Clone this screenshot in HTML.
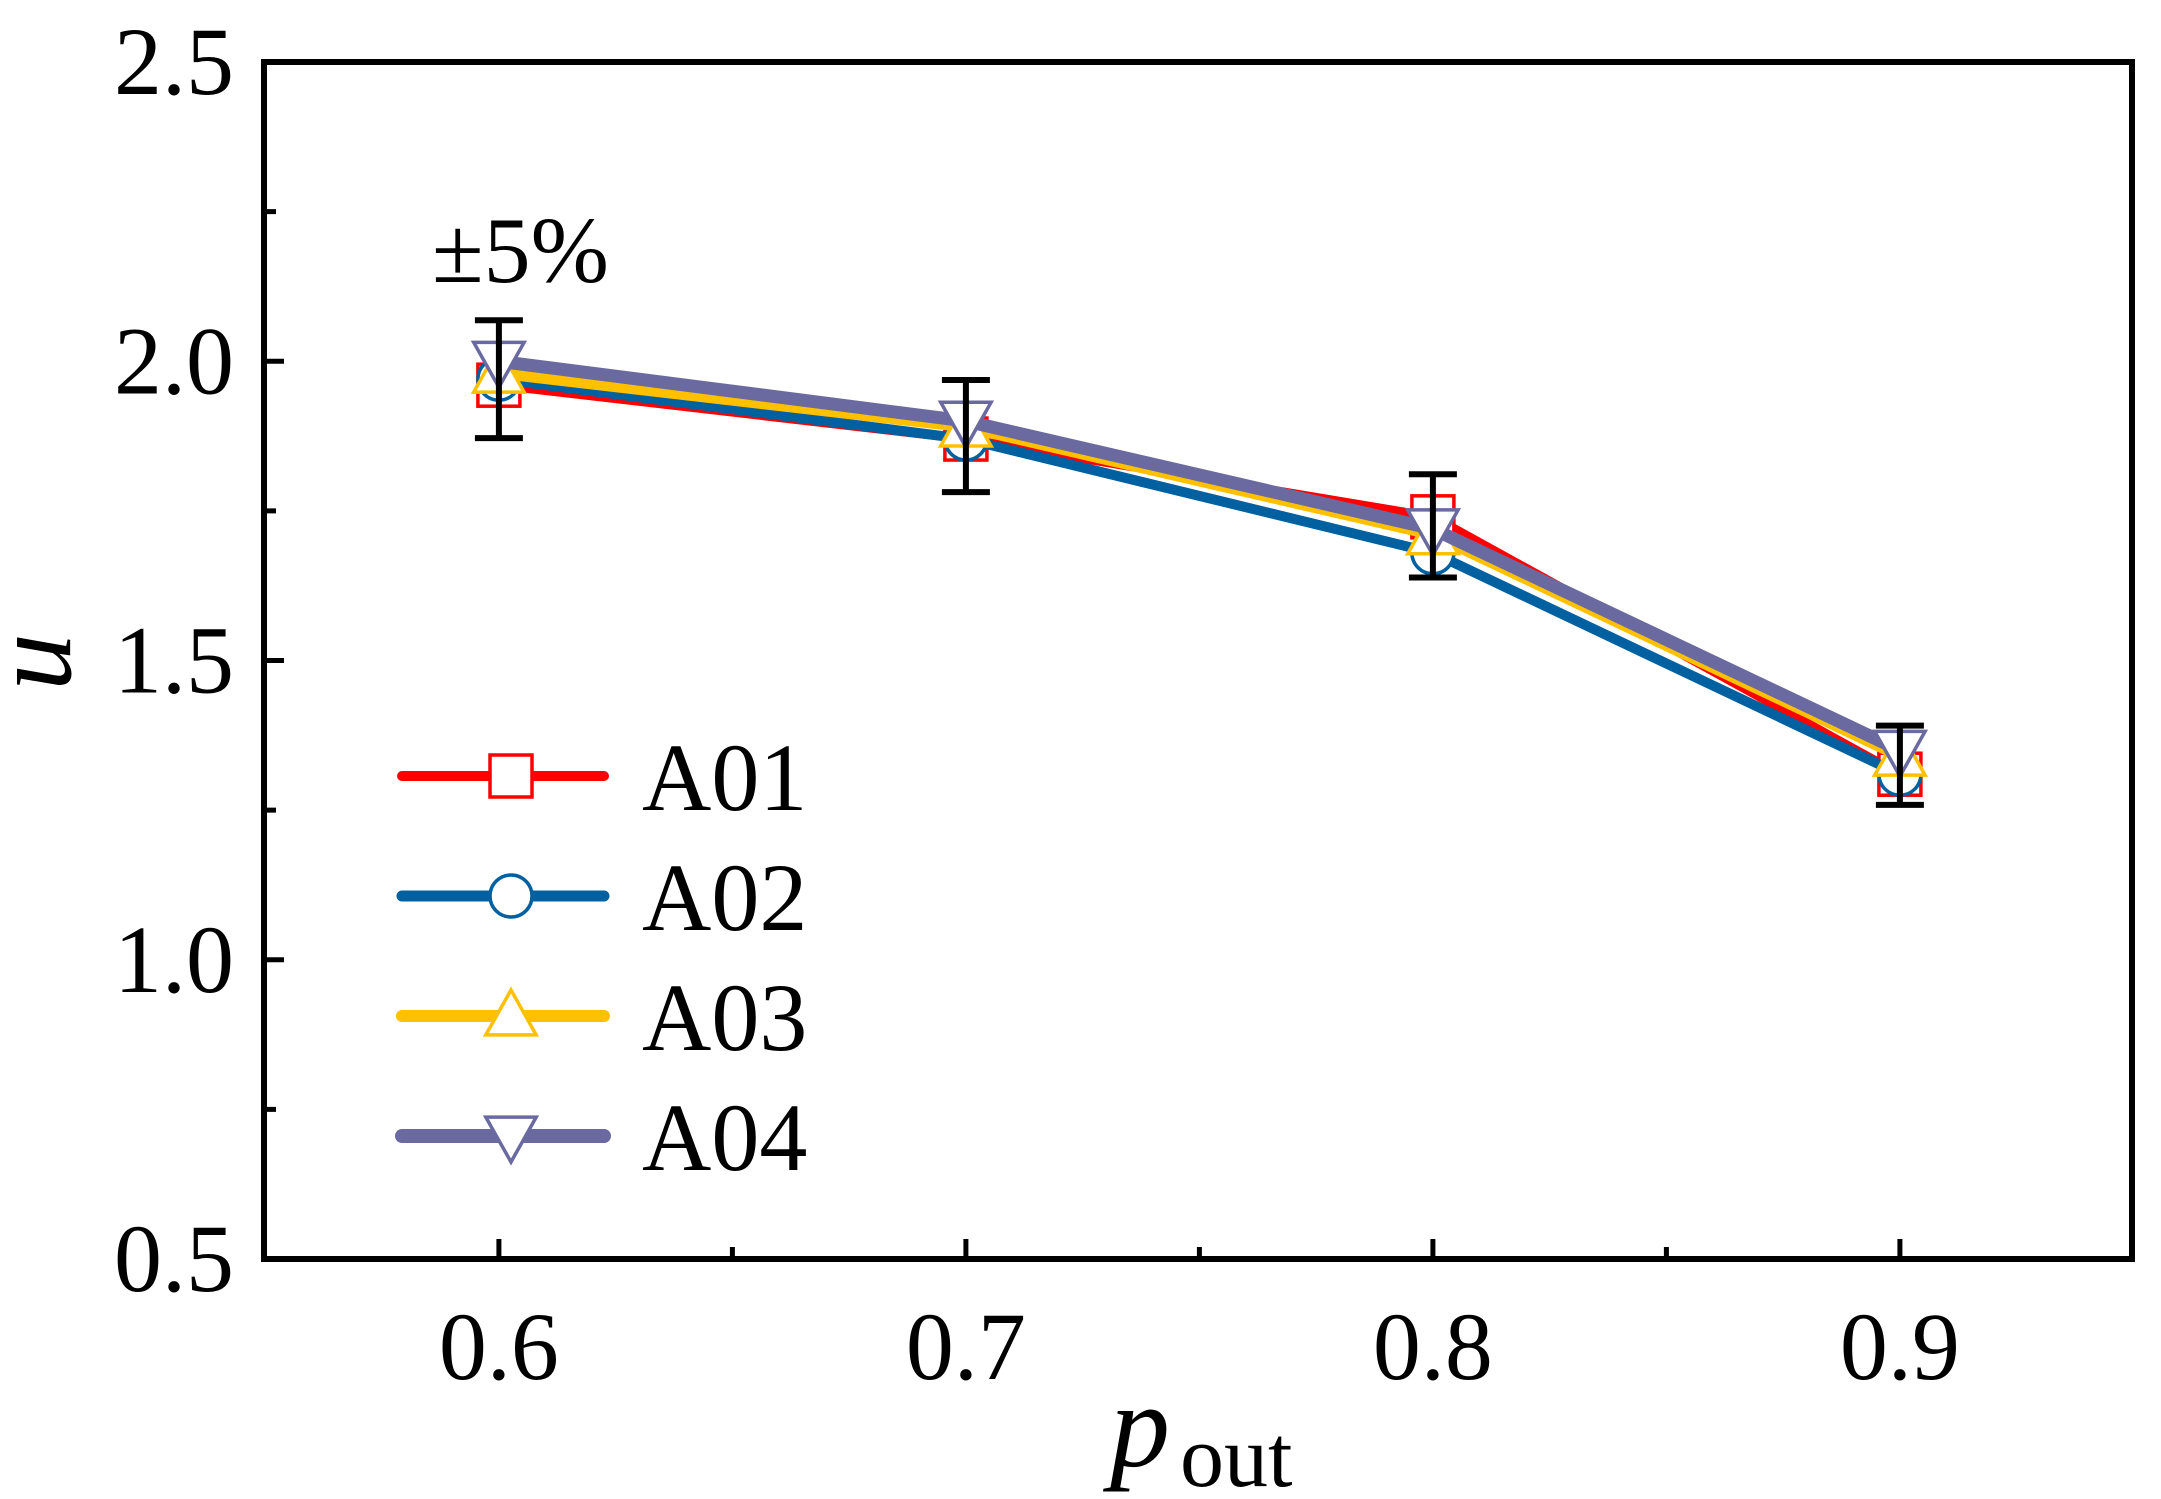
<!DOCTYPE html>
<html><head><meta charset="utf-8"><style>
body{margin:0;background:#fff}
svg{display:block;font-family:"Liberation Serif",serif}
</style></head><body>
<svg id="chart" width="2161" height="1499" viewBox="0 0 2161 1499" xmlns="http://www.w3.org/2000/svg">
<g id="plot"></g>
</svg>
<script>
const xCats=[0.6,0.7,0.8,0.9];
const seriesNames=["A01","A02","A03","A04"];
const a01=[1.96,1.87,1.74,1.31];
const a02=[1.97,1.87,1.68,1.31];
const a03=[1.98,1.89,1.71,1.34];
const a04=[2.00,1.90,1.72,1.35];
const errCenter=[1.97,1.875,1.725,1.325];
const errPct=0.05;
const yTicks=["0.5","1.0","1.5","2.0","2.5"];
const xTicks=["0.6","0.7","0.8","0.9"];

const L=264,R=2132,T=62,B=1259;
const xMin=0.5497,xMax=0.9497,yMin=0.5,yMax=2.5;
const X=v=>L+(v-xMin)/(xMax-xMin)*(R-L);
const Y=v=>B-(v-yMin)/(yMax-yMin)*(B-T);
const NS="http://www.w3.org/2000/svg";
const g=document.getElementById('plot');
function mk(t,a,p){const e=document.createElementNS(NS,t);for(const k in a)e.setAttribute(k,a[k]);(p||g).appendChild(e);return e;}

[0.5,1,1.5,2,2.5].forEach((v,i)=>{
 const t=mk('line',{x1:L,x2:L+20,y1:Y(v),y2:Y(v),stroke:'#000','stroke-width':5});
 
 const tx=mk('text',{x:L-30,y:Y(v)+32,'text-anchor':'end','font-size':96});
 tx.textContent=yTicks[i];
 
});
[0.75,1.25,1.75,2.25].forEach(v=>{
 const t=mk('line',{x1:L,x2:L+12,y1:Y(v),y2:Y(v),stroke:'#000','stroke-width':5});
 
});
xCats.forEach((v,i)=>{
 const t=mk('line',{x1:X(v),x2:X(v),y1:B,y2:B-20,stroke:'#000','stroke-width':5});
 
 const tx=mk('text',{x:X(v),y:B+120,'text-anchor':'middle','font-size':96});
 tx.textContent=xTicks[i];
 
});
[0.65,0.75,0.85].forEach(v=>{
 const t=mk('line',{x1:X(v),x2:X(v),y1:B,y2:B-12,stroke:'#000','stroke-width':5});
 
});

const colors=["#ff0000","#0060a0","#ffc000","#6a6aa0"];
const widths=[9,10,11,13];
const shapes=["square","circle","up","down"];
const data=[a01,a02,a03,a04];
function marker(shape,cx,cy,c,s,p){
 let e;
 if(shape==="square")e=mk('rect',{x:cx-s/2,y:cy-s/2,width:s,height:s,fill:'#fff',stroke:c,'stroke-width':3.5},p);
 else if(shape==="circle")e=mk('circle',{cx:cx,cy:cy,r:s/2,fill:'#fff',stroke:c,'stroke-width':3.5},p);
 else if(shape==="up")e=mk('polygon',{points:`${cx},${cy-s*0.62} ${cx-s*0.6},${cy+s*0.45} ${cx+s*0.6},${cy+s*0.45}`,fill:'#fff',stroke:c,'stroke-width':3.5},p);
 else e=mk('polygon',{points:`${cx},${cy+s*0.62} ${cx-s*0.6},${cy-s*0.45} ${cx+s*0.6},${cy-s*0.45}`,fill:'#fff',stroke:c,'stroke-width':3.5},p);
 return e;
}
data.forEach((d,si)=>{
 const sg=mk('g',{});
 
 
 const pl=mk('polyline',{points:d.map((v,i)=>X(xCats[i])+','+Y(v)).join(' '),fill:'none',stroke:colors[si],'stroke-width':widths[si],'stroke-linejoin':'round'},sg);
 
 d.forEach((v,i)=>{
  const m=marker(shapes[si],X(xCats[i]),Y(v),colors[si],42,sg);
  
 });
});
errCenter.forEach((c,i)=>{
 const x=X(xCats[i]),hi=Y(c*(1+errPct)),lo=Y(c*(1-errPct));
 const eg=mk('g',{stroke:'#000','stroke-width':6});
 
 mk('line',{x1:x,x2:x,y1:hi,y2:lo},eg);
 mk('line',{x1:x-24,x2:x+24,y1:hi,y2:hi},eg);
 mk('line',{x1:x-24,x2:x+24,y1:lo,y2:lo},eg);
});
seriesNames.forEach((n,i)=>{
 const y=776+i*120;
 const lg=mk('g',{});
 
 mk('line',{x1:402,x2:604,y1:y,y2:y,stroke:colors[i],'stroke-width':widths[i]+1,'stroke-linecap':'round'},lg);
 marker(shapes[i],511,y,colors[i],42,lg);
 const t=mk('text',{x:642,y:y+34,'font-size':96},lg);t.textContent=n;
});
const fr=mk('rect',{x:L,y:T,width:R-L,height:B-T,fill:'none',stroke:'#000','stroke-width':6});

const ann=mk('text',{x:432,y:282,'font-size':94});ann.textContent="±5%";

const yl=mk('text',{x:0,y:0,'font-size':115,'font-style':'italic',transform:'translate(70,662) rotate(-90)','text-anchor':'middle'});yl.textContent="u";

const xl=mk('text',{x:1110,y:1466,'font-size':120,'font-style':'italic'});xl.textContent="p";

const xs=mk('text',{x:1180,y:1486,'font-size':88});xs.textContent="out";

</script>
</body></html>
